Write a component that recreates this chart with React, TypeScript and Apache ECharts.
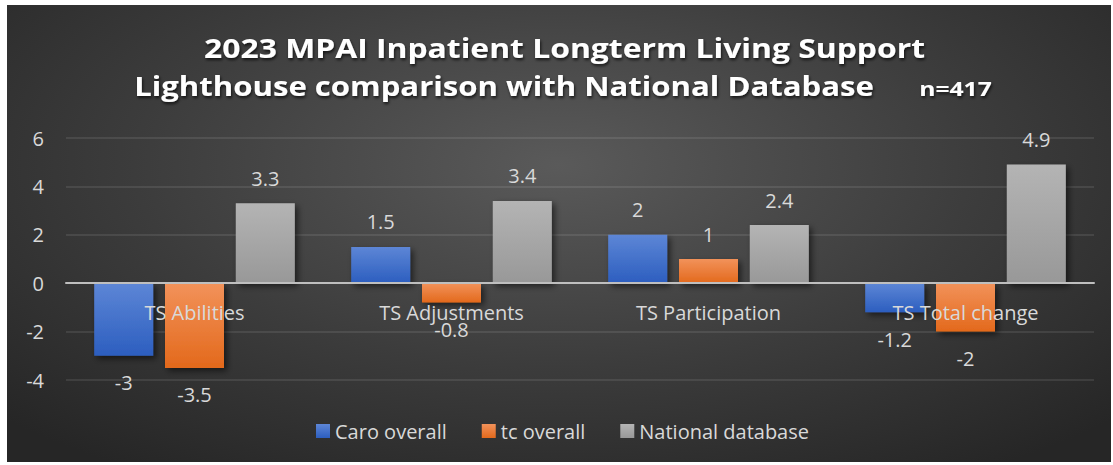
import React, { useEffect, useRef } from "react";
import * as echarts from "echarts";

const categories = ["TS Abilities", "TS Adjustments", "TS Participation", "TS Total change"];
const caroOverall = [-3, 1.5, 2, -1.2];
const tcOverall = [-3.5, -0.8, 1, -2];
const nationalDatabase = [3.3, 3.4, 2.4, 4.9];
const seriesNames = ["Caro overall", "tc overall", "National database"];
const titleLine1 = "2023 MPAI Inpatient Longterm Living Support";
const titleLine2 = "Lighthouse comparison with National Database";
const nText = "n=417";

const FONT = "'Open Sans', sans-serif";

function grad(top: string, bottom: string) {
  return new echarts.graphic.LinearGradient(0, 0, 0, 1, [
    { offset: 0, color: top },
    { offset: 1, color: bottom },
  ]);
}

export default function App() {
  const ref = useRef<HTMLDivElement>(null);
  useEffect(() => {
    document.body.style.margin = "0";
    const chart = echarts.init(ref.current!, null, { renderer: "svg" });
    const label = {
      show: true,
      color: "#d9d9d9",
      fontSize: 20,
      fontFamily: FONT,
    };
    const mk = (name: string, data: number[], top: string, bottom: string) => ({
      name,
      type: "bar",
      data: data.map((v) => ({
        value: v,
        label: { ...label, position: v >= 0 ? "top" : "bottom", distance: v >= 0 ? 15 : 17 },
      })),
      barWidth: 59,
      barGap: "20%",
      itemStyle: {
        color: grad(top, bottom),
        shadowColor: "rgba(0,0,0,0.55)",
        shadowBlur: 6,
        shadowOffsetX: 3,
        shadowOffsetY: 3,
      },
    });
    const titleStyle = {
      fill: "#ffffff",
      fontFamily: FONT,
      fontWeight: "bold",
      align: "center",
      verticalAlign: "middle",
      textShadowColor: "rgba(0,0,0,0.7)",
      textShadowBlur: 3,
      textShadowOffsetX: 1,
      textShadowOffsetY: 2,
    };
    chart.setOption({
      animation: false,
      graphic: [
        {
          type: "text",
          x: 557.5,
          y: 42.5,
          scaleX: 1.18,
          style: { ...titleStyle, text: titleLine1, fontSize: 27 },
        },
        {
          type: "text",
          x: 497,
          y: 81,
          scaleX: 1.153,
          style: { ...titleStyle, text: titleLine2, fontSize: 27 },
        },
        {
          type: "text",
          x: 948.5,
          y: 83,
          scaleX: 1.3,
          style: { ...titleStyle, text: nText, fontSize: 19 },
        },
      ],
      legend: {
        data: seriesNames,
        left: 304,
        top: 411,
        itemWidth: 14,
        itemHeight: 14,
        itemGap: 35,
        icon: "rect",
        textStyle: { color: "#d9d9d9", fontSize: 20, fontFamily: FONT },
      },
      grid: { left: 59, right: 17, top: 133, bottom: 82 },
      xAxis: {
        type: "category",
        data: categories,
        z: 10,
        offset: -96.8,
        axisLine: { onZero: false, lineStyle: { color: "#bfbfbf", width: 2 } },
        axisTick: { show: false },
        axisLabel: { color: "#d9d9d9", fontSize: 20, fontFamily: FONT, margin: 19 },
      },
      yAxis: {
        type: "value",
        min: -4,
        max: 6,
        interval: 2,
        axisLine: { show: false },
        axisTick: { show: false },
        axisLabel: { color: "#d9d9d9", fontSize: 20, fontFamily: FONT, margin: 22 },
        splitLine: { lineStyle: { color: "rgba(255,255,255,0.12)", width: 1.5 } },
      },
      series: [
        mk(seriesNames[0], caroOverall, "#5d86d6", "#2c5ebf"),
        mk(seriesNames[1], tcOverall, "#f2925a", "#e3691c"),
        mk(seriesNames[2], nationalDatabase, "#b4b4b4", "#989898"),
      ],
    });
    return () => chart.dispose();
  }, []);
  return (
    <div
      style={{
        position: "absolute",
        left: 7,
        top: 5,
        width: 1104,
        height: 457,
        background: "radial-gradient(ellipse 70% 80% at 50% 35%, #5a5a5a 0%, #3c3c3c 55%, #262626 100%)",
      }}
    >
      <div ref={ref} style={{ width: 1104, height: 457 }} />
    </div>
  );
}
